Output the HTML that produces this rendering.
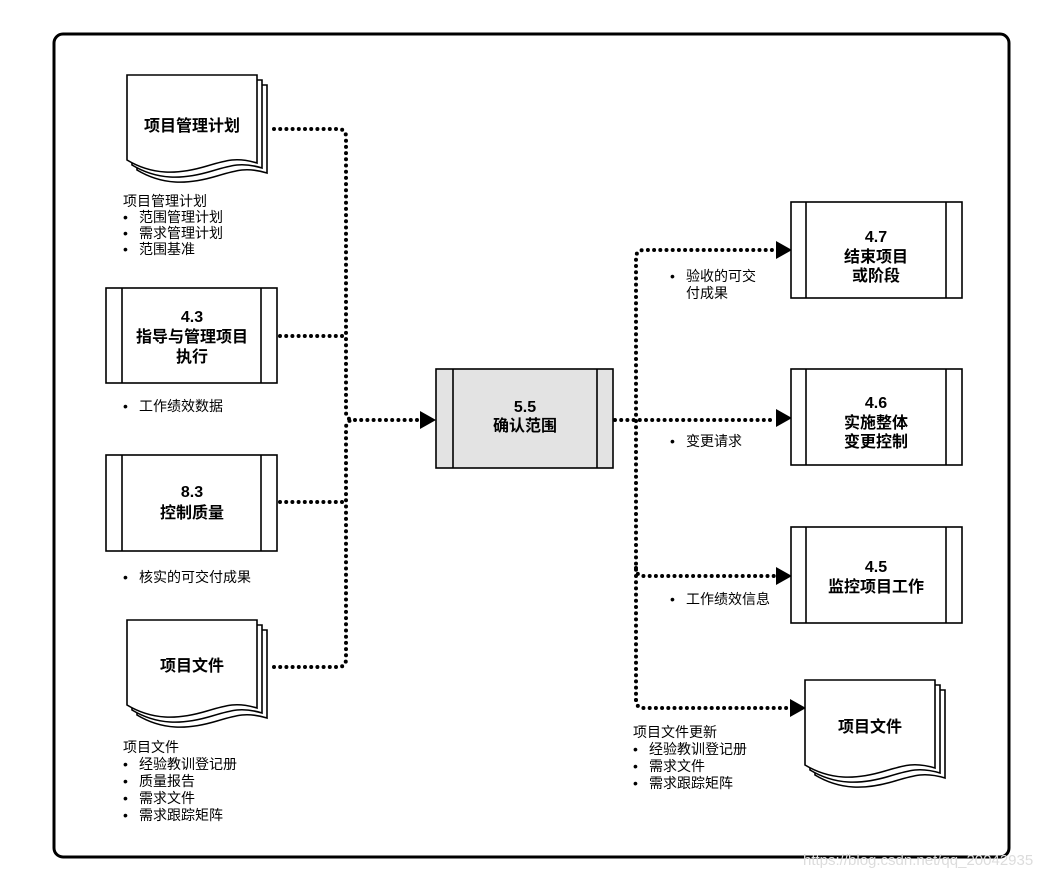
<!DOCTYPE html>
<html><head><meta charset="utf-8"><style>
html,body{margin:0;padding:0;background:#fff;}
svg{display:block;}
text{font-family:"Liberation Sans","Noto Sans CJK SC",sans-serif;fill:#000;}
.t{font-size:14px;}
.b{font-size:16px;font-weight:bold;text-anchor:middle;}
.d{fill:none;stroke:#000;stroke-width:4;stroke-linecap:round;stroke-dasharray:0 6.2;}
.box{fill:#fff;stroke:#000;stroke-width:1.6;}
</style></head><body>
<svg width="1056" height="876" viewBox="0 0 1056 876" xmlns="http://www.w3.org/2000/svg">
<rect x="54" y="34" width="955" height="823" rx="9" fill="#fff" stroke="#000" stroke-width="3"/>

<defs>
<g id="doc">
<path class="box" d="M10,10 H140 V98 C120,92 110,95 90,101 C60,110 35,110 10,95 Z"/>
<path class="box" d="M5,5 H135 V93 C115,87 105,90 85,96 C55,105 30,105 5,90 Z"/>
<path class="box" d="M0,0 H130 V88 C110,82 100,85 80,91 C50,100 25,100 0,85 Z"/>
</g>
</defs>

<path class="d" d="M274,129 H338 Q346,129 346,137 V412 Q346,420 354,420 H420"/>
<path class="d" d="M280,336 H346"/>
<path class="d" d="M280,502 H346"/>
<path class="d" d="M274,667 H338 Q346,667 346,659 V428 Q346,420 354,420"/>
<polygon points="420,411 436,420 420,429" fill="#000"/>

<path class="d" d="M615,420 H776"/>
<path class="d" d="M636,700 V258 Q636,250 644,250 H776"/>
<path class="d" d="M636,568 Q636,576 644,576 H776"/>
<path class="d" d="M636,700 Q636,708 644,708 H790"/>
<polygon points="776,241 792,250 776,259" fill="#000"/>
<polygon points="776,409 792,418 776,427" fill="#000"/>
<polygon points="776,567 792,576 776,585" fill="#000"/>
<polygon points="790,699 806,708 790,717" fill="#000"/>

<use href="#doc" x="127" y="75"/>
<text class="b" x="192" y="131">项目管理计划</text>
<text class="t" x="123" y="206">项目管理计划</text>
<text class="t" x="123" y="222">•</text><text class="t" x="139" y="222">范围管理计划</text>
<text class="t" x="123" y="238">•</text><text class="t" x="139" y="238">需求管理计划</text>
<text class="t" x="123" y="254">•</text><text class="t" x="139" y="254">范围基准</text>

<rect class="box" x="106" y="288" width="171" height="95"/>
<line x1="122" y1="288" x2="122" y2="383" stroke="#000" stroke-width="1.6"/>
<line x1="261" y1="288" x2="261" y2="383" stroke="#000" stroke-width="1.6"/>
<text class="b" x="192" y="322">4.3</text>
<text class="b" x="192" y="342">指导与管理项目</text>
<text class="b" x="192" y="362">执行</text>
<text class="t" x="123" y="411">•</text><text class="t" x="139" y="411">工作绩效数据</text>

<rect class="box" x="106" y="455" width="171" height="96"/>
<line x1="122" y1="455" x2="122" y2="551" stroke="#000" stroke-width="1.6"/>
<line x1="261" y1="455" x2="261" y2="551" stroke="#000" stroke-width="1.6"/>
<text class="b" x="192" y="497">8.3</text>
<text class="b" x="192" y="518">控制质量</text>
<text class="t" x="123" y="582">•</text><text class="t" x="139" y="582">核实的可交付成果</text>

<use href="#doc" x="127" y="620"/>
<text class="b" x="192" y="671">项目文件</text>
<text class="t" x="123" y="752">项目文件</text>
<text class="t" x="123" y="769">•</text><text class="t" x="139" y="769">经验教训登记册</text>
<text class="t" x="123" y="786">•</text><text class="t" x="139" y="786">质量报告</text>
<text class="t" x="123" y="803">•</text><text class="t" x="139" y="803">需求文件</text>
<text class="t" x="123" y="820">•</text><text class="t" x="139" y="820">需求跟踪矩阵</text>

<rect x="436" y="369" width="177" height="99" fill="#e3e3e3" stroke="#000" stroke-width="1.6"/>
<line x1="453" y1="369" x2="453" y2="468" stroke="#000" stroke-width="1.6"/>
<line x1="597" y1="369" x2="597" y2="468" stroke="#000" stroke-width="1.6"/>
<text class="b" x="525" y="412">5.5</text>
<text class="b" x="525" y="431">确认范围</text>

<rect class="box" x="791" y="202" width="171" height="96"/>
<line x1="806" y1="202" x2="806" y2="298" stroke="#000" stroke-width="1.6"/>
<line x1="946" y1="202" x2="946" y2="298" stroke="#000" stroke-width="1.6"/>
<text class="b" x="876" y="242">4.7</text>
<text class="b" x="876" y="262">结束项目</text>
<text class="b" x="876" y="281">或阶段</text>
<text class="t" x="670" y="281">•</text><text class="t" x="686" y="281">验收的可交</text>
<text class="t" x="686" y="298">付成果</text>

<rect class="box" x="791" y="369" width="171" height="96"/>
<line x1="806" y1="369" x2="806" y2="465" stroke="#000" stroke-width="1.6"/>
<line x1="946" y1="369" x2="946" y2="465" stroke="#000" stroke-width="1.6"/>
<text class="b" x="876" y="408">4.6</text>
<text class="b" x="876" y="428">实施整体</text>
<text class="b" x="876" y="447">变更控制</text>
<text class="t" x="670" y="446">•</text><text class="t" x="686" y="446">变更请求</text>

<rect class="box" x="791" y="527" width="171" height="96"/>
<line x1="806" y1="527" x2="806" y2="623" stroke="#000" stroke-width="1.6"/>
<line x1="946" y1="527" x2="946" y2="623" stroke="#000" stroke-width="1.6"/>
<text class="b" x="876" y="572">4.5</text>
<text class="b" x="876" y="592">监控项目工作</text>
<text class="t" x="670" y="604">•</text><text class="t" x="686" y="604">工作绩效信息</text>

<use href="#doc" x="805" y="680"/>
<text class="b" x="870" y="732">项目文件</text>
<text class="t" x="633" y="737">项目文件更新</text>
<text class="t" x="633" y="754">•</text><text class="t" x="649" y="754">经验教训登记册</text>
<text class="t" x="633" y="771">•</text><text class="t" x="649" y="771">需求文件</text>
<text class="t" x="633" y="788">•</text><text class="t" x="649" y="788">需求跟踪矩阵</text>

<text x="803" y="865" style="font-size:15px;fill:#dcdcdc;">https://blog.csdn.net/qq_20042935</text>
</svg>
</body></html>
